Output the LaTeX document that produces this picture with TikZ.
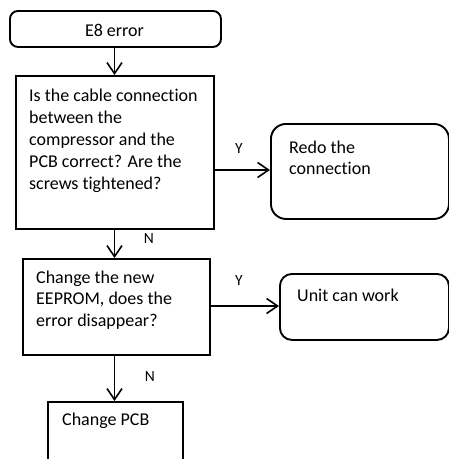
\documentclass[tikz,border=0pt]{standalone}
\usepackage{fontspec}
\setmainfont[Ligatures=NoCommon]{Carlito}
\usetikzlibrary{arrows.meta}
\begin{document}
\begin{tikzpicture}[x=1pt,y=-1pt,
  box/.style={draw=black,line width=1.9pt,inner sep=0pt,anchor=north west},
  txt/.style={anchor=base west,inner sep=0pt,align=left,font=\fontsize{18}{22}\selectfont},
  lbl/.style={anchor=base,inner sep=0pt,font=\fontsize{15.5}{18}\selectfont},
  arr/.style={draw=black,line width=1.6pt,-{Straight Barb[length=11pt,width=15pt,line width=1.6pt]}}]
\useasboundingbox (0,0) rectangle (449,459);
% boxes
\node[box,rounded corners=8pt,minimum width=211pt,minimum height=36pt] (start) at (9,10) {};
\node[box,minimum width=198pt,minimum height=153pt] (q1) at (15,75) {};
\node[box,rounded corners=15pt,minimum width=178pt,minimum height=95pt] (redo) at (270,123) {};
\node[box,minimum width=187pt,minimum height=96pt] (q2) at (22,258) {};
\node[box,rounded corners=12pt,minimum width=169pt,minimum height=66pt] (unit) at (279,273) {};
\node[box,minimum width=135pt,minimum height=70pt] (pcb) at (47,401) {};
% texts
\node[font=\fontsize{18}{22}\selectfont,anchor=base,inner sep=0pt] (t0) at (114.5,36) {E8 error};
\node[txt] (t1a) at (29,101) {Is the cable connection};
\node[txt] (t1b) at (29,123) {between the};
\node[txt] (t1c) at (29,145) {compressor and the};
\node[txt] (t1d) at (29,167) {PCB correct? Are the};
\node[txt] (t1e) at (29,189) {screws tightened?};
\node[txt] (t2a) at (289,153) {Redo the};
\node[txt] (t2b) at (289,174) {connection};
\node[txt] (t3a) at (36,283) {Change the new};
\node[txt] (t3b) at (36,304) {EEPROM, does the};
\node[txt] (t3c) at (36,326) {error disappear?};
\node[txt] (t4) at (297,301) {Unit can work};
\node[txt] (t5) at (62,425) {Change PCB};
% labels
\node[lbl] (y1) at (239,153) {Y};
\node[lbl] (n1) at (149,243) {N};
\node[lbl] (y2) at (239,285) {Y};
\node[lbl] (n2) at (150,381) {N};
% connectors
\draw[arr] (start.south -| 114.5,0) -- (q1.north -| 114.5,0);
\draw[arr] (q1.east |- 0,170) -- (redo.west |- 0,170);
\draw[arr] (q1.south -| 114.5,0) -- (q2.north -| 114.5,0);
\draw[arr] (q2.east |- 0,306) -- (unit.west |- 0,306);
\draw[arr] (q2.south -| 114.5,0) -- (pcb.north -| 114.5,0);
\end{tikzpicture}
\end{document}
